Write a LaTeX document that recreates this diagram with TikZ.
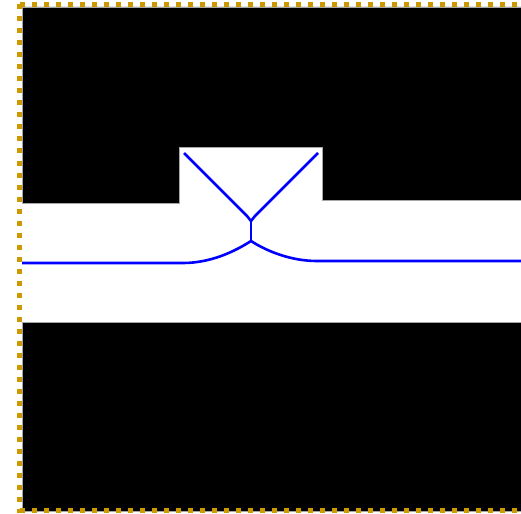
\documentclass[tikz,border=0pt]{standalone}
\usepackage{xcolor}
\usepackage{tikz}
\usetikzlibrary{calc}

\definecolor{frameorange}{RGB}{204,153,0}
\definecolor{axisblue}{RGB}{0,0,255}

\begin{document}
\begin{tikzpicture}[
    x=1pt, y=-1pt,
    wall/.style={fill=black, draw=gray!70, line width=0.6pt},
    frame/.style={draw=frameorange, line width=5pt, dash pattern=on 5pt off 7pt},
    medial/.style={draw=axisblue, line width=2.6pt, line join=round}
]
\useasboundingbox (0,0) rectangle (521,513);
\clip (0,0) rectangle (521,513);

% walls
\fill[wall] (22,7) -- (540,7) -- (540,200) -- (322,200) -- (322,147)
    -- (179,147) -- (179,203) -- (22,203) -- cycle;
\fill[wall] (22,322) rectangle (540,511);

% frame
\draw[frame] (19.5,4.5) -- (540,4.5);
\draw[frame] (19.5,4.5) -- (19.5,513);
\draw[frame] (19.5,510.5) -- (540,510.5);

% medial axis
\coordinate (west) at (22,263);
\coordinate (wbend) at (183,263);
\coordinate (low) at (251,241);
\coordinate (high) at (251,221);
\coordinate (ebend) at (317,261);
\coordinate (east) at (521,261);
\coordinate (ntl) at (184,153);
\coordinate (ntr) at (318,153);

\draw[medial] (west) -- (wbend) .. controls (210,263) and (234,252) .. (low);
\draw[medial] (low) .. controls (268,252) and (292,261) .. (ebend) -- (east);
\draw[medial] (low) -- (high);
\draw[medial] (high) -- ($(high)+(-4,-5)$) -- (ntl);
\draw[medial] (high) -- ($(high)+(4,-5)$) -- (ntr);

\end{tikzpicture}
\end{document}
